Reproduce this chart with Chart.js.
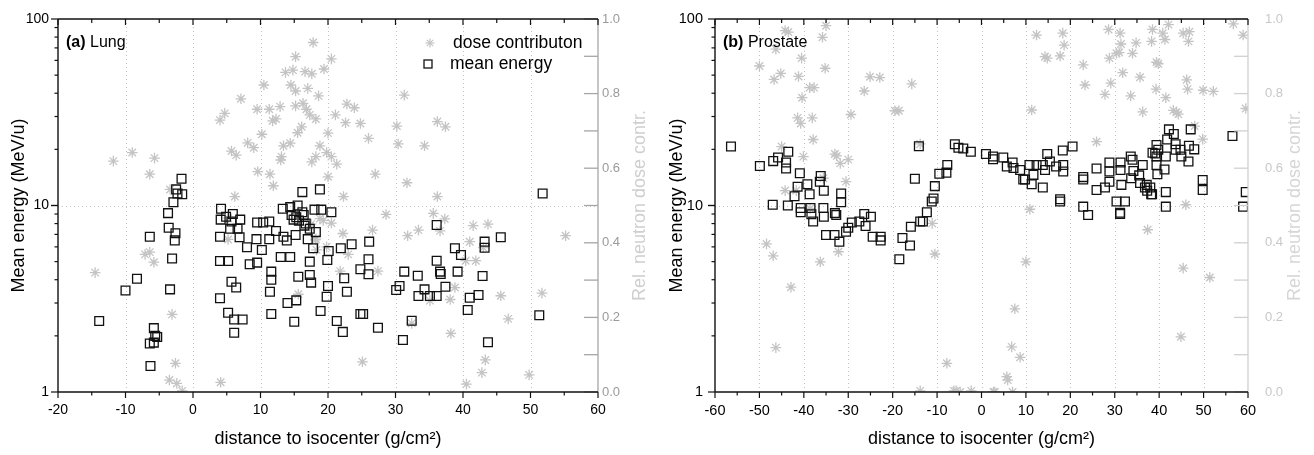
<!DOCTYPE html>
<html>
<head>
<meta charset="utf-8">
<script src="https://cdn.jsdelivr.net/npm/chart.js@4.4.1/dist/chart.umd.min.js"></script>
<style>
  html, body { margin: 0; padding: 0; background: #fff; }
  #wrap { position: relative; width: 1314px; height: 455px; }
  canvas { position: absolute; top: 0; }
</style>
</head>
<body>
<div id="wrap">
  <canvas id="lung" width="657" height="455" style="left:0"></canvas>
  <canvas id="prostate" width="657" height="455" style="left:657px"></canvas>
</div>
<script>
// (a) Lung: mean energy (MeV/u), open squares
var lungEnergyX = [-13.9, -10.0, -8.3, -6.4, -6.3, -6.4, -5.8, -5.8, -5.6, -5.3, -3.7, -3.6, -2.6, -2.7, -3.1, -3.4, -2.9, -2.5, -2.3, -1.6, -1.7,
  4.15, 4.1, 4.9, 5.9, 5.7, 7.0, 5.5, 6.6, 4.0, 6.9, 8.0, 4.0, 5.2, 8.4, 9.5, 5.7, 6.4, 4.0, 5.2, 6.1, 7.35, 6.1,
  9.5, 10.4, 11.3, 12.3, 9.4, 11.3, 10.2, 13.4, 13.9, 15.2, 13.3, 14.4, 15.5, 14.6, 15.3, 16.4, 16.2, 18.8, 18.0, 19.0, 20.5,
  16.7, 17.3, 18.2, 17.0, 17.8, 20.1, 19.9, 17.3, 14.4, 13.0, 21.9, 23.5, 26.1, 26.0, 24.8, 26.0, 22.4, 20.0, 19.8, 22.8,
  15.6, 17.3, 17.5, 11.6, 11.6, 11.4, 14.0, 15.3, 11.6, 15.0, 18.9, 21.3, 22.2, 24.8, 25.2, 27.4, 30.1, 30.6, 31.3, 31.1,
  32.4, 33.3, 33.4, 34.3, 35.1, 36.1, 36.1, 36.1, 36.6, 36.7, 37.4, 38.8, 39.7, 39.2, 40.7, 41.0, 42.3, 42.9, 43.2, 43.2,
  43.7, 45.6, 51.3, 51.8, 14.9, 15.7, 16.5, 16.2];
var lungEnergyY = [2.4, 3.5, 4.05, 6.8, 1.38, 1.82, 1.84, 2.2, 2.0, 1.97, 9.1, 7.6, 7.1, 6.5, 5.2, 3.55, 10.4, 12.2, 11.6, 11.5, 13.9,
  9.6, 8.4, 8.7, 9.0, 8.2, 8.4, 7.5, 7.5, 6.8, 6.75, 5.97, 5.04, 5.04, 4.84, 4.94, 3.9, 3.63, 3.18, 2.66, 2.45, 2.45, 2.08,
  8.1, 8.1, 8.2, 7.3, 6.6, 6.6, 5.77, 6.8, 6.5, 6.95, 9.6, 9.8, 10.0, 8.9, 8.65, 8.9, 11.8, 12.2, 9.5, 9.5, 9.2,
  8.0, 7.5, 7.2, 6.6, 5.9, 5.7, 5.1, 5.0, 5.3, 5.3, 5.9, 6.2, 6.4, 5.15, 4.55, 4.28, 4.07, 3.7, 3.24, 3.45,
  4.15, 4.24, 3.86, 4.42, 4.0, 3.45, 3.0, 3.1, 2.62, 2.38, 2.72, 2.4, 2.1, 2.62, 2.62, 2.21, 3.52, 3.7, 4.42, 1.9,
  2.41, 4.2, 3.27, 3.55, 3.27, 3.27, 7.86, 5.06, 4.42, 4.29, 3.67, 5.9, 5.43, 4.42, 2.75, 3.2, 3.31, 4.19, 6.4, 5.94,
  1.85, 6.75, 2.58, 11.6, 8.4, 8.3, 7.8, 9.2];

// (a) Lung: relative neutron dose contribution, asterisks
var lungDoseX = [-14.5, -11.8, -9.0, -7.1, -6.4, -5.8, -5.7, -6.4, -3.4, -3.1, -2.6, -3.5, -2.4, -1.6, 4.1,
  4.0, 4.7, 7.1, 5.7, 6.4, 6.2, 5.2, 5.2, 9.5, 10.5, 11.3, 12.9, 11.8, 12.3, 10.2, 8.1, 9.0, 9.6, 11.4, 11.9,
  13.7, 14.8, 15.2, 16.6, 17.6, 17.8, 20.5, 19.4, 14.5, 15.2, 17.0, 18.6, 15.2, 16.3, 16.8, 17.3, 18.2, 16.1, 15.5,
  14.4, 13.4, 13.1, 13.0, 18.8, 19.8, 20.5, 21.3, 18.2, 17.6, 20.0, 20.0, 21.1, 22.8, 23.9, 22.6, 24.8, 26.0, 27.0,
  22.3, 28.6, 30.2, 30.4, 31.3, 34.3, 36.2, 37.4, 31.7, 36.2, 35.6, 37.3, 41.5, 43.7, 55.2, 26.6, 22.2, 31.8, 33.4,
  36.6, 41.0, 40.4, 41.9, 43.0, 27.4, 21.8, 23.0, 38.8, 38.1, 35.1, 32.4, 38.2, 43.3, 42.8, 40.5, 49.8, 46.7, 45.6,
  51.7, 25.1, 15.6, 17.3, 18.1, 18.8, 19.3, 18.3, 20.5, 17.5, 18.2, 19.8];
var lungDoseY = [0.32, 0.619, 0.642, 0.369, 0.375, 0.348, 0.627, 0.584, 0.543, 0.208, 0.077, 0.032, 0.023, 0.003, 0.026,
  0.729, 0.747, 0.786, 0.646, 0.635, 0.524, 0.466, 0.409, 0.758, 0.823, 0.758, 0.765, 0.727, 0.732, 0.691, 0.668, 0.655, 0.591, 0.584, 0.553,
  0.857, 0.863, 0.899, 0.859, 0.853, 0.937, 0.893, 0.866, 0.823, 0.807, 0.814, 0.794, 0.767, 0.774, 0.758, 0.743, 0.732, 0.711, 0.695,
  0.667, 0.66, 0.631, 0.622, 0.66, 0.642, 0.631, 0.611, 0.631, 0.617, 0.694, 0.577, 0.743, 0.772, 0.762, 0.722, 0.72, 0.68, 0.584,
  0.524, 0.476, 0.713, 0.665, 0.796, 0.66, 0.725, 0.711, 0.561, 0.524, 0.479, 0.464, 0.446, 0.45, 0.419, 0.434, 0.425, 0.419, 0.434,
  0.432, 0.403, 0.352, 0.352, 0.387, 0.324, 0.324, 0.369, 0.28, 0.248, 0.245, 0.184, 0.157, 0.086, 0.052, 0.021, 0.046, 0.196, 0.258,
  0.265, 0.081, 0.262, 0.445, 0.408, 0.465, 0.46, 0.381, 0.453, 0.45, 0.41, 0.389];

// (b) Prostate: mean energy (MeV/u), open squares
var prostateEnergyX = [-56.4, -49.9, -46.9, -45.8, -43.5, -44.0, -44.0, -47.0, -43.6, -42.1, -41.4, -40.9, -39.2, -38.7, -40.7, -40.7,
  -38.5, -38.3, -37.9, -36.2, -36.4, -35.5, -35.6, -35.5, -35.0, -33.1, -33.0, -32.7, -32.0, -31.6, -31.6, -30.5, -30.0, -29.2,
  -27.5, -26.4, -26.1, -24.9, -24.5, -22.7, -22.7, -18.5, -17.8, -16.1, -15.9, -13.8, -13.2, -12.3, -11.2, -10.8, -10.5, -9.5,
  -7.9, -7.7, -15.0, -14.1, -6.0, -5.2, -4.1, -2.4, 1.0, 2.6, 2.6, 4.9, 5.7, 7.0, 7.2, 8.7, 9.4, 9.8, 11.3, 11.7, 10.8, 12.4,
  13.8, 13.8, 14.8, 15.4, 14.3, 16.8, 18.4, 18.4, 18.3, 20.5, 17.7, 17.7, 22.9, 22.9, 22.9, 24.0, 25.9, 25.9, 27.8, 28.8, 28.8,
  28.8, 30.4, 32.3, 31.2, 31.2, 31.3, 31.3, 31.5, 33.6, 34.0, 34.2, 33.7, 35.5, 36.3, 35.7, 36.8, 37.2, 38.0, 38.2, 37.3, 38.4,
  39.1, 39.4, 39.8, 38.5, 39.4, 39.4, 41.5, 41.2, 39.6, 41.5, 41.5, 42.2, 43.3, 41.8, 43.7, 43.7, 44.8, 45.0, 46.6, 46.7, 47.1,
  47.9, 49.8, 49.8, 56.5, 59.5, 58.9];
var prostateEnergyY = [20.7, 16.3, 17.3, 18.1, 19.4, 17.0, 15.8, 10.1, 10.0, 11.2, 12.6, 14.9, 13.0, 11.5, 9.7, 9.2,
  9.7, 8.97, 8.2, 14.4, 13.4, 12.0, 9.7, 8.7, 6.95, 6.95, 9.1, 8.9, 6.4, 11.6, 10.4, 7.24, 7.6, 8.1,
  8.2, 9.0, 7.76, 8.7, 6.8, 6.8, 6.5, 5.15, 6.7, 6.1, 7.7, 8.2, 8.2, 9.2, 10.5, 10.9, 12.7, 14.8,
  15.0, 16.5, 13.9, 20.8, 21.3, 20.4, 20.2, 19.4, 18.9, 18.3, 17.7, 18.1, 16.2, 17.0, 15.9, 15.5, 13.8, 13.8, 13.0, 14.6, 16.5, 16.5,
  16.5, 12.5, 18.9, 17.2, 15.5, 16.2, 16.5, 15.2, 19.7, 20.7, 10.8, 10.5, 14.2, 13.8, 9.86, 8.9, 15.8, 12.1, 12.5, 17.0, 15.2,
  13.4, 10.5, 10.5, 9.15, 9.0, 17.0, 15.5, 12.9, 18.3, 17.6, 15.3, 14.0, 14.5, 16.5, 13.2, 12.5, 12.9, 12.5, 11.5, 12.0, 11.5,
  19.0, 21.1, 19.9, 19.2, 18.3, 16.5, 18.3, 15.6, 14.7, 11.8, 9.86, 25.6, 24.2, 22.6, 21.3, 19.9, 19.9, 18.3, 17.2, 20.9, 25.6,
  20.0, 13.7, 12.1, 23.6, 11.8, 9.86];

// (b) Prostate: relative neutron dose contribution, asterisks
var prostateDoseX = [-44.2, -43.5, -35.0, -35.8, -46.3, -40.5, -50.0, -35.2, -45.2, -46.7, -41.2, -38.7, -37.7, -40.4, -25.1, -22.9,
  -26.4, -15.7, -19.5, -18.6, -41.4, -38.1, -40.7, -29.4, -37.9, -45.0, -40.1, -33.0, -32.6, -31.8, -30.0, -30.5, -35.6, -13.8,
  -44.2, -41.7, -38.6, -48.4, -46.9, -32.2, -36.3, -11.1, -10.5, -42.9, -46.3, -7.8, -13.8, -6.2, -5.7, -2.3, 10.9, 10.0, 7.5,
  6.8, 8.7, 5.7, 5.9, 7.0, 2.7, 3.0, -4.8, 46.0, 37.4, 45.4, 51.4, 44.9, 12.4, 18.3, 18.6, 14.3, 14.8, 17.7, 28.6, 31.2, 31.4,
  34.8, 34.0, 28.8, 30.4, 31.0, 38.5, 38.3, 40.8, 41.3, 42.1, 39.4, 39.8, 45.4, 46.8, 46.6, 56.7, 58.9, 22.9, 23.3, 27.8, 29.1,
  31.8, 33.6, 35.7, 39.3, 41.5, 46.2, 46.4, 49.9, 52.2, 36.3, 43.2, 43.9, 44.3, 48.0, 49.8, 59.5, 25.9, 11.3];
var prostateDoseY = [0.969, 0.965, 0.982, 0.951, 0.919, 0.895, 0.874, 0.868, 0.854, 0.838, 0.846, 0.816, 0.816, 0.789, 0.845, 0.843,
  0.807, 0.826, 0.754, 0.754, 0.735, 0.735, 0.72, 0.744, 0.677, 0.658, 0.631, 0.638, 0.633, 0.613, 0.623, 0.564, 0.573, 0.665,
  0.54, 0.54, 0.492, 0.397, 0.365, 0.376, 0.349, 0.452, 0.37, 0.281, 0.119, 0.077, 0.003, 0.003, 0.003, 0.003, 0.49, 0.349, 0.223,
  0.121, 0.093, 0.041, 0.032, 0.0, 0.0, 0.0, 0.0, 0.502, 0.435, 0.332, 0.307, 0.148, 0.957, 0.962, 0.93, 0.899, 0.895, 0.901, 0.972, 0.962, 0.933,
  0.936, 0.908, 0.895, 0.908, 0.91, 0.972, 0.94, 0.962, 0.945, 0.985, 0.884, 0.88, 0.962, 0.966, 0.94, 0.987, 0.957, 0.877, 0.823, 0.798, 0.828,
  0.856, 0.794, 0.844, 0.812, 0.789, 0.837, 0.812, 0.809, 0.806, 0.751, 0.755, 0.75, 0.745, 0.713, 0.678, 0.76, 0.671, 0.756];

var rightTicks = [0, 0.2, 0.4, 0.6, 0.8, 1.0];
var logLabels = [1, 10, 100];

Chart.defaults.font.family = "'Liberation Sans', Arial, Helvetica, sans-serif";

function toPoints(xs, ys) {
  return xs.map(function (x, i) { return { x: x, y: ys[i] }; });
}

function line(ctx, x1, y1, x2, y2) {
  ctx.beginPath();
  ctx.moveTo(x1, y1);
  ctx.lineTo(x2, y2);
  ctx.stroke();
}

// keep label overhang from pushing the plot area around
function fixBox(prop, size) {
  return function (s) {
    s[prop] = size;
    s.paddingTop = 0;
    s.paddingBottom = 0;
    s.paddingLeft = 0;
    s.paddingRight = 0;
  };
}

// grid, frame, tick marks, panel label, legend and right-axis title
var framePlugin = {
  id: "frame",
  beforeDatasetsDraw: function (chart, args, o) {
    var ctx = chart.ctx, a = chart.chartArea, xs = chart.scales.x, ys = chart.scales.y;
    ctx.save();
    ctx.strokeStyle = "#c4c4c4";
    ctx.lineWidth = 1;
    ctx.setLineDash([1, 3]);
    for (var v = xs.min + 10; v < xs.max; v += 10) {
      var px = Math.round(xs.getPixelForValue(v)) + 0.5;
      line(ctx, px, a.top, px, a.bottom);
    }
    var py = Math.round(ys.getPixelForValue(10)) + 0.5;
    line(ctx, a.left, py, a.right, py);
    ctx.restore();
  },
  afterDatasetsDraw: function (chart, args, o) {
    var ctx = chart.ctx, a = chart.chartArea;
    var xs = chart.scales.x, ys = chart.scales.y, y2 = chart.scales.y2;
    ctx.save();
    ctx.setLineDash([]);

    // right axis (grey)
    ctx.strokeStyle = o.rightColor;
    ctx.lineWidth = 1.3;
    line(ctx, a.right, a.top, a.right, a.bottom);
    for (var k = 0; k <= 10; k++) {
      var ty = y2.getPixelForValue(k / 10);
      line(ctx, a.right - 14, ty, a.right, ty);
    }

    // black frame
    ctx.strokeStyle = "#111";
    ctx.lineWidth = 1.4;
    line(ctx, a.left, a.top, a.right, a.top);
    line(ctx, a.left, a.bottom, a.right, a.bottom);
    line(ctx, a.left, a.top, a.left, a.bottom);

    ctx.lineWidth = 1.2;
    for (var v = xs.min; v <= xs.max; v += 5) {
      var px = xs.getPixelForValue(v);
      var major = v % 10 === 0;
      line(ctx, px, a.bottom, px, a.bottom + (major ? 6 : 3.5));
      line(ctx, px, a.top, px, a.top + (major ? 6 : 4));
    }
    [1, 10].forEach(function (dec) {
      for (var m = 1; m <= 10; m++) {
        var val = dec * m;
        var p = ys.getPixelForValue(val);
        var isMajor = logLabels.indexOf(val) >= 0;
        line(ctx, a.left - (isMajor ? 7 : 3.5), p, a.left, p);
      }
    });

    // panel label
    ctx.fillStyle = "#000";
    ctx.textBaseline = "middle";
    ctx.textAlign = "left";
    ctx.font = "bold 16px 'Liberation Sans', Arial, sans-serif";
    ctx.fillText(o.tag, a.left + 8, 43);
    var w = ctx.measureText(o.tag + " ").width;
    ctx.font = "16px 'Liberation Sans', Arial, sans-serif";
    ctx.fillText(o.name, a.left + 8 + w, 43);

    // legend
    if (o.legend) {
      ctx.font = "17.5px 'Liberation Sans', Arial, sans-serif";
      ctx.fillStyle = "#000";
      ctx.fillText("dose contributon", 453, 43);
      ctx.fillText("mean energy", 450, 64);
      ctx.strokeStyle = "#c4c4c4";
      ctx.lineWidth = 1.2;
      var cx = 430, cy = 43, r = 4.5, d = r * Math.SQRT1_2;
      line(ctx, cx - r, cy, cx + r, cy);
      line(ctx, cx, cy - r, cx, cy + r);
      line(ctx, cx - d, cy - d, cx + d, cy + d);
      line(ctx, cx - d, cy + d, cx + d, cy - d);
      ctx.strokeStyle = "#111";
      ctx.lineWidth = 1.3;
      ctx.strokeRect(424, 60, 8, 8);
    }

    // right axis title, reading bottom to top
    ctx.save();
    ctx.translate(o.rightTitleX, (a.top + a.bottom) / 2);
    ctx.rotate(-Math.PI / 2);
    ctx.textAlign = "center";
    ctx.fillStyle = o.rightTitleColor;
    ctx.font = "18px 'Liberation Sans', Arial, sans-serif";
    ctx.fillText("Rel. neutron dose contr.", 0, 0);
    ctx.restore();

    ctx.restore();
  }
};

function makePanel(id, p) {
  return new Chart(document.getElementById(id), {
    type: "scatter",
    data: {
      datasets: [
        {
          label: "mean energy",
          data: toPoints(p.ex, p.ey),
          yAxisID: "y",
          pointStyle: "rect",
          pointRadius: 6.2,
          borderColor: "#111",
          borderWidth: 1.3,
          backgroundColor: "rgba(255,255,255,0)",
          order: 0
        },
        {
          label: "dose contributon",
          data: toPoints(p.dx, p.dy),
          yAxisID: "y2",
          pointStyle: "star",
          pointRadius: 5.3,
          borderColor: "#c4c4c4",
          borderWidth: 1.3,
          backgroundColor: "#c4c4c4",
          order: 1
        }
      ]
    },
    options: {
      responsive: false,
      animation: false,
      devicePixelRatio: 1,
      layout: { padding: { top: 19, left: 0, right: 0, bottom: 0 } },
      plugins: {
        legend: { display: false },
        tooltip: { enabled: false },
        frame: p.frame
      },
      scales: {
        x: {
          type: "linear",
          min: p.xMin,
          max: p.xMax,
          grid: { display: false, drawTicks: false },
          border: { display: false },
          ticks: { stepSize: 10, color: "#000", font: { size: p.tickSize }, padding: 10, maxRotation: 0, autoSkip: false },
          title: { display: true, text: "distance to isocenter (g/cm\u00b2)", color: "#000", font: { size: 18 }, padding: { top: 0, bottom: 5 } },
          afterFit: fixBox("height", 63)
        },
        y: {
          type: "logarithmic",
          position: "left",
          min: 1,
          max: 100,
          grid: { display: false, drawTicks: false },
          border: { display: false },
          ticks: {
            autoSkip: false,
            color: "#000",
            font: { size: p.tickSize },
            padding: p.yPad,
            callback: function (v) { return logLabels.indexOf(v) >= 0 ? String(v) : ""; }
          },
          title: { display: true, text: "Mean energy (MeV/u)", color: "#000", font: { size: 18 }, padding: { top: p.yTitlePad, bottom: 0 } },
          afterFit: fixBox("width", 58)
        },
        y2: {
          type: "linear",
          position: "right",
          min: 0,
          max: 1,
          grid: { display: false, drawTicks: false },
          border: { display: false },
          afterBuildTicks: function (s) { s.ticks = rightTicks.map(function (v) { return { value: v }; }); },
          ticks: {
            autoSkip: false,
            color: p.frame.rightLabelColor,
            font: { size: 13 },
            padding: p.y2Pad,
            callback: function (v) { return Number(v).toFixed(1); }
          },
          afterFit: fixBox("width", p.y2Width)
        }
      }
    },
    plugins: [framePlugin]
  });
}

makePanel("lung", {
  ex: lungEnergyX, ey: lungEnergyY, dx: lungDoseX, dy: lungDoseY,
  xMin: -20, xMax: 60, tickSize: 14, yPad: 9, yTitlePad: 8, y2Pad: 4, y2Width: 59,
  frame: { tag: "(a)", name: "Lung", legend: true, rightColor: "#a6a6a6", rightLabelColor: "#9a9a9a", rightTitleColor: "#cfcfcf", rightTitleX: 640 }
});

makePanel("prostate", {
  ex: prostateEnergyX, ey: prostateEnergyY, dx: prostateDoseX, dy: prostateDoseY,
  xMin: -60, xMax: 60, tickSize: 14.5, yPad: 12, yTitlePad: 9, y2Pad: 17, y2Width: 66,
  frame: { tag: "(b)", name: "Prostate", legend: false, rightColor: "#d0d0d0", rightLabelColor: "#c8c8c8", rightTitleColor: "#d6d6d6", rightTitleX: 638 }
});
</script>
</body>
</html>
